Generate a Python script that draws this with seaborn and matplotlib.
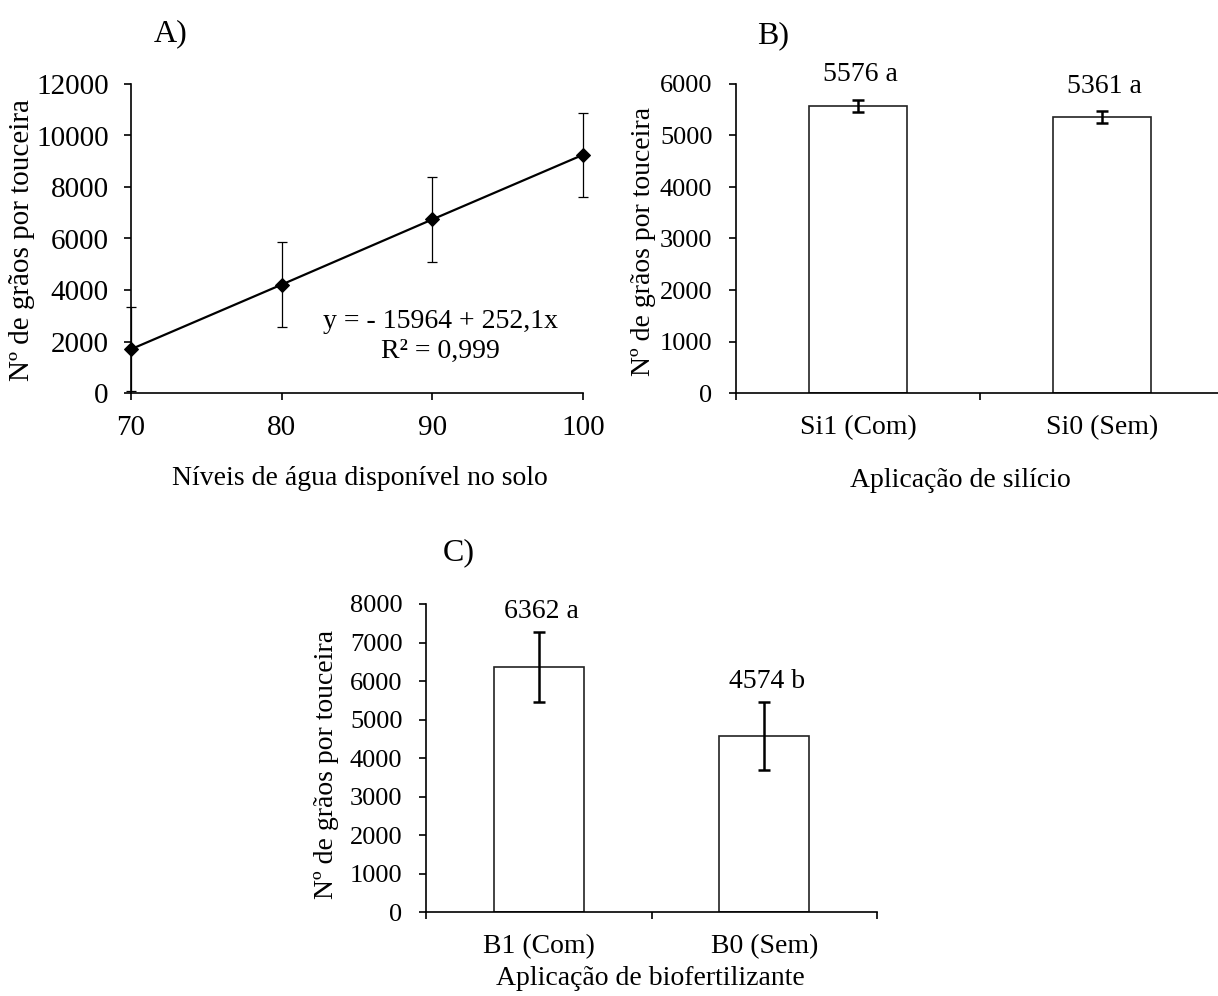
import matplotlib
matplotlib.use("Agg")
import matplotlib.pyplot as plt
import seaborn as sns
import pandas as pd

# ---------------- data ----------------
water_levels = [70, 80, 90, 100]
grains_water = [1700, 4210, 6740, 9250]
err_water = [1640, 1640, 1640, 1620]
eq_text = "y = - 15964 + 252,1x"
r2_text = "R² = 0,999"

si_cats = ["Si1 (Com)", "Si0 (Sem)"]
si_vals = [5576, 5361]
si_err = [120, 110]
si_labels = ["5576 a", "5361 a"]

bio_cats = ["B1 (Com)", "B0 (Sem)"]
bio_vals = [6362, 4574]
bio_err = [900, 880]
bio_labels = ["6362 a", "4574 b"]

ylab = "Nº de grãos por touceira"

# ---------------- style ----------------
sns.set_style("ticks")
plt.rcParams["font.family"] = ["Liberation Serif", "DejaVu Serif"]
plt.rcParams["axes.linewidth"] = 1.2
plt.rcParams["xtick.major.width"] = 1.2
plt.rcParams["ytick.major.width"] = 1.2
plt.rcParams["xtick.major.size"] = 5
plt.rcParams["ytick.major.size"] = 5
plt.rcParams["xtick.direction"] = "out"
plt.rcParams["ytick.direction"] = "out"
plt.rcParams["axes.edgecolor"] = "black"
plt.rcParams["xtick.color"] = "black"
plt.rcParams["ytick.color"] = "black"
plt.rcParams["text.color"] = "black"
plt.rcParams["axes.labelcolor"] = "black"

W, H = 1218, 996
fig = plt.figure(figsize=(W / 100, H / 100), dpi=100)


def ax_rect(left, top, right, bottom):
    return [left / W, (H - bottom) / H, (right - left) / W, (bottom - top) / H]


# ---------------- Panel A ----------------
axA = fig.add_axes(ax_rect(131, 84, 583, 393))
dfA = pd.DataFrame({"x": water_levels, "y": grains_water})
sns.lineplot(data=dfA, x="x", y="y", ax=axA, color="black", linewidth=1.6,
             marker="D", markersize=7, markeredgecolor="black",
             markerfacecolor="black", clip_on=False, zorder=4)
axA.errorbar(water_levels, grains_water, yerr=err_water, fmt="none",
             ecolor="black", elinewidth=0.9, capsize=3.5, capthick=0.9,
             clip_on=False, zorder=3)
axA.set_xlim(70, 100)
axA.set_ylim(0, 12000)
axA.set_xticks(water_levels)
axA.set_yticks(range(0, 12001, 2000))
axA.tick_params(axis="both", labelsize=21, pad=11)
axA.set_xlabel("Níveis de água disponível no solo", fontsize=20)
axA.set_ylabel(ylab, fontsize=21, va="center")
axA.xaxis.set_label_coords(0.507, -0.236)
axA.yaxis.set_label_coords(-0.241, 0.495)
axA.text(0.684, 0.230, eq_text, transform=axA.transAxes, fontsize=20,
         ha="center", va="center")
axA.text(0.684, 0.133, r2_text, transform=axA.transAxes, fontsize=20,
         ha="center", va="center")
sns.despine(ax=axA)


def bar_panel(ax, cats, vals, errs, labels, ymax, ystep, label_off):
    df = pd.DataFrame({"cat": cats, "val": vals})
    sns.barplot(data=df, x="cat", y="val", ax=ax, width=0.4, color="white",
                edgecolor="black", linewidth=1.2, errorbar=None, zorder=2)
    for p in ax.patches:
        p.set_facecolor("white")
        p.set_edgecolor("#222222")
    xs = list(range(len(cats)))
    ax.errorbar(xs, vals, yerr=errs, fmt="none", ecolor="black",
                elinewidth=1.8, capsize=4.5, capthick=1.8, zorder=3)
    for x, v, e, lab in zip(xs, vals, errs, labels):
        ax.annotate(lab, xy=(x, v + e), xytext=(2, label_off),
                    textcoords="offset points", ha="center", va="center",
                    fontsize=20)
    ax.set_xlim(-0.5, len(cats) - 0.5)
    ax.set_ylim(0, ymax)
    ax.set_yticks(range(0, ymax + 1, ystep))
    ax.set_xticks([i - 0.5 for i in range(len(cats) + 1)])
    ax.set_xticklabels([])
    ax.set_xticks(xs, minor=True)
    ax.set_xticklabels(cats, minor=True)
    ax.tick_params(axis="x", which="minor", length=0, labelsize=20, pad=16)
    ax.tick_params(axis="y", labelsize=19, pad=12)
    ax.set_ylabel(ylab, fontsize=20, va="center")
    sns.despine(ax=ax)


# ---------------- Panel B ----------------
axB = fig.add_axes(ax_rect(736, 84, 1224, 393))
bar_panel(axB, si_cats, si_vals, si_err, si_labels, 6000, 1000, 18)
axB.set_xlabel("Aplicação de silício", fontsize=20)
axB.xaxis.set_label_coords(0.459, -0.243)
axB.yaxis.set_label_coords(-0.19, 0.49)

# ---------------- Panel C ----------------
axC = fig.add_axes(ax_rect(426, 604, 877, 912))
bar_panel(axC, bio_cats, bio_vals, bio_err, bio_labels, 8000, 1000, 15)
axC.set_xlabel("Aplicação de biofertilizante", fontsize=20, va="center")
axC.xaxis.set_label_coords(0.497, -0.215)
axC.yaxis.set_label_coords(-0.22, 0.48)

# ---------------- panel letters ----------------
fig.text(171 / W, 1 - 34 / H, "A)", fontsize=23, ha="center", va="center")
fig.text(773 / W, 1 - 36 / H, "B)", fontsize=23, ha="center", va="center")
fig.text(459 / W, 1 - 553 / H, "C)", fontsize=23, ha="center", va="center")

fig.savefig("out.png", dpi=100)
